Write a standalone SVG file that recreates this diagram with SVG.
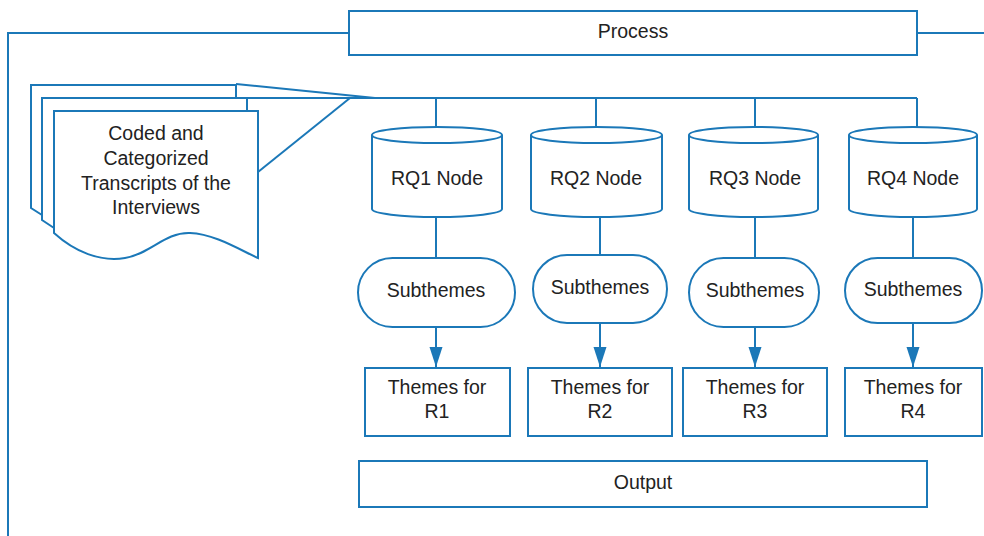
<svg xmlns="http://www.w3.org/2000/svg" width="984" height="536" viewBox="0 0 984 536">
<defs>
<marker id="arr" markerWidth="20" markerHeight="14" refX="20" refY="6.5" orient="auto" markerUnits="userSpaceOnUse" viewBox="0 0 20 13">
<path d="M0,0 L20,6.5 L0,13 Z" fill="#1b78b8"/>
</marker>
<style>
.s{fill:#fff;stroke:#1b78b8;stroke-width:2}
.l{fill:none;stroke:#1b78b8;stroke-width:2}
.t{font-family:"Liberation Sans",Arial,sans-serif;font-size:19.5px;fill:#222;text-anchor:middle}
</style>
</defs>
<rect width="984" height="536" fill="#fff"/>
<g id="connectors">
<path class="l" d="M349,33 H8 V536"/>
<path class="l" d="M917,33 H984"/>
<path class="l" d="M236,84 L375,98"/>
<path class="l" d="M350,98 L258,172"/>
<path class="l" d="M247,98 H917"/>
<path class="l" d="M436,98 V127 M596,98 V127 M755,98 V127 M917,98 V127"/>
<path class="l" d="M436,217 V258 M600,217 V255 M755,217 V258 M913,217 V258"/>
<path class="l" d="M436,327 V367" marker-end="url(#arr)"/>
<path class="l" d="M600,323 V367" marker-end="url(#arr)"/>
<path class="l" d="M755,327 V367" marker-end="url(#arr)"/>
<path class="l" d="M913,323 V367" marker-end="url(#arr)"/>
</g>
<g id="process">
<rect class="s" x="349" y="11" width="568" height="44"/>
<text class="t" x="633" y="38">Process</text>
</g>
<g id="documents">
<path class="s" d="M31,208 V85 H236 V98 H42 V215 Z"/>
<path class="s" d="M42,220 V98 H247 V111 H54 V228 Z"/>
<path class="s" d="M54,233 V111 H258 V258 C240,250 215,234 190,233 C165,232 150,254 125,258 C100,262 75,252 54,233 Z"/>
<text class="t" x="156" y="140">Coded and</text>
<text class="t" x="156" y="165">Categorized</text>
<text class="t" x="156" y="190">Transcripts of the</text>
<text class="t" x="156" y="214">Interviews</text>
</g>
<g id="rq1">
<path class="s" d="M372,135 V209 A65,8 0 0 0 502,209 V135"/>
<ellipse class="s" cx="437" cy="135" rx="65" ry="8"/>
<text class="t" x="437" y="185">RQ1 Node</text>
</g>
<g id="rq2">
<path class="s" d="M531,135 V209 A65.5,8 0 0 0 662,209 V135"/>
<ellipse class="s" cx="596.5" cy="135" rx="65.5" ry="8"/>
<text class="t" x="596" y="185">RQ2 Node</text>
</g>
<g id="rq3">
<path class="s" d="M689,135 V209 A64.5,8 0 0 0 818,209 V135"/>
<ellipse class="s" cx="753.5" cy="135" rx="64.5" ry="8"/>
<text class="t" x="755" y="185">RQ3 Node</text>
</g>
<g id="rq4">
<path class="s" d="M849,135 V209 A64,8 0 0 0 977,209 V135"/>
<ellipse class="s" cx="913" cy="135" rx="64" ry="8"/>
<text class="t" x="913" y="185">RQ4 Node</text>
</g>
<g id="sub1">
<rect class="s" x="358" y="258" width="157" height="69" rx="34.5"/>
<text class="t" x="436" y="297">Subthemes</text>
</g>
<g id="sub2">
<rect class="s" x="533" y="255" width="134" height="68" rx="34"/>
<text class="t" x="600" y="294">Subthemes</text>
</g>
<g id="sub3">
<rect class="s" x="689" y="258" width="130" height="69" rx="34.5"/>
<text class="t" x="755" y="297">Subthemes</text>
</g>
<g id="sub4">
<rect class="s" x="845" y="258" width="137" height="65" rx="32.5"/>
<text class="t" x="913" y="296">Subthemes</text>
</g>
<g id="theme1">
<rect class="s" x="365" y="368" width="145" height="68"/>
<text class="t" x="437" y="394">Themes for</text>
<text class="t" x="437" y="418">R1</text>
</g>
<g id="theme2">
<rect class="s" x="528" y="368" width="144" height="68"/>
<text class="t" x="600" y="394">Themes for</text>
<text class="t" x="600" y="418">R2</text>
</g>
<g id="theme3">
<rect class="s" x="683" y="368" width="144" height="68"/>
<text class="t" x="755" y="394">Themes for</text>
<text class="t" x="755" y="418">R3</text>
</g>
<g id="theme4">
<rect class="s" x="845" y="368" width="137" height="68"/>
<text class="t" x="913" y="394">Themes for</text>
<text class="t" x="913" y="418">R4</text>
</g>
<g id="output">
<rect class="s" x="359" y="461" width="568" height="46"/>
<text class="t" x="643" y="489">Output</text>
</g>
</svg>
